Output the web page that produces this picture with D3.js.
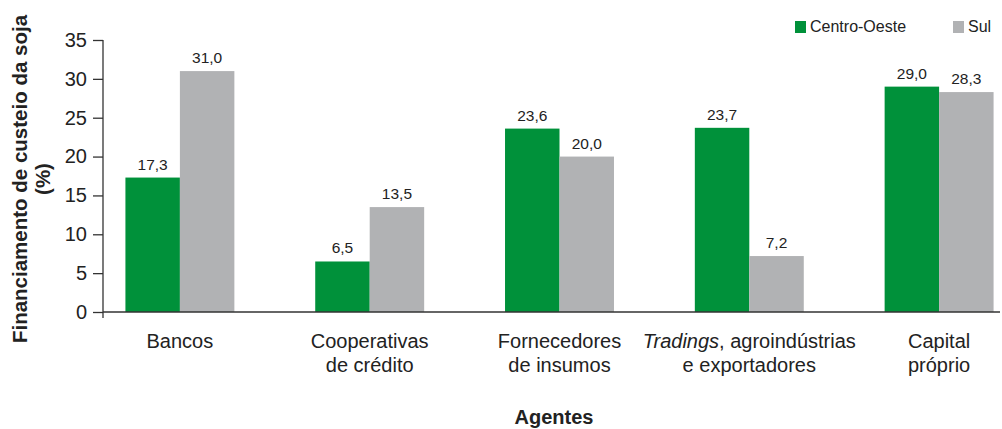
<!DOCTYPE html>
<html>
<head>
<meta charset="utf-8">
<script src="https://cdn.jsdelivr.net/npm/d3@7/dist/d3.min.js"></script>
<style>
  html, body { margin: 0; padding: 0; background: #fff; }
  svg { display: block; font-family: "Liberation Sans", Arial, sans-serif; }
</style>
</head>
<body>
<svg id="chart" width="1002" height="429"></svg>
<script>
// Agents financing the soybean crop, share by region (%)
const categories = [
  ["Bancos"],
  ["Cooperativas", "de crédito"],
  ["Fornecedores", "de insumos"],
  ["Tradings", "e exportadores"],
  ["Capital", "próprio"]
];
const seriesNames = ["Centro-Oeste", "Sul"];
const centroOeste = [17.3, 6.5, 23.6, 23.7, 29.0];
const sul = [31.0, 13.5, 20.0, 7.2, 28.3];
const yTicks = [0, 5, 10, 15, 20, 25, 30, 35];

const colors = { "Centro-Oeste": "#00913a", "Sul": "#b1b2b4" };
const axisColor = "#333";

const svg = d3.select("#chart");
const plotTop = 40, plotBottom = 312, axisX = 103;

const keys = categories.map((d, i) => "c" + i);
const x = d3.scaleBand().domain(keys).range([85, 1034]).paddingInner(0.426).paddingOuter(0.213);
const xs = d3.scaleBand().domain(seriesNames).range([0, x.bandwidth()]);
const y = d3.scaleLinear().domain([0, 35]).range([plotBottom, plotTop]);

const rows = keys.map((k, i) => ({ key: k, values: [
  { name: "Centro-Oeste", v: centroOeste[i] },
  { name: "Sul", v: sul[i] }
]}));

// Bars
const g = svg.append("g");
const groups = g.selectAll("g.grp").data(rows).join("g")
  .attr("class", "grp")
  .attr("transform", d => `translate(${x(d.key)},0)`);

groups.selectAll("rect").data(d => d.values).join("rect")
  .attr("x", d => xs(d.name))
  .attr("y", d => y(d.v))
  .attr("width", xs.bandwidth())
  .attr("height", d => y(0) - y(d.v))
  .attr("fill", d => colors[d.name]);

groups.selectAll("text.val").data(d => d.values).join("text")
  .attr("class", "val")
  .attr("x", d => xs(d.name) + xs.bandwidth() / 2)
  .attr("y", d => y(d.v) - 8)
  .attr("text-anchor", "middle")
  .attr("font-size", 15.5)
  .attr("fill", "#222")
  .text(d => d3.format(".1f")(d.v).replace(".", ","));

// Y axis
const yAxis = d3.axisLeft(y).tickValues(yTicks).tickSize(10).tickPadding(6).tickFormat(d3.format("d"));
const ya = svg.append("g").attr("transform", `translate(${axisX},0)`).call(yAxis);
ya.select(".domain").remove();
ya.selectAll(".tick line").attr("stroke", axisColor).attr("stroke-width", 1.3);
ya.selectAll(".tick text").attr("font-size", 20).attr("fill", "#222")
  .attr("font-family", "Liberation Sans, Arial, sans-serif");
svg.append("line").attr("x1", axisX).attr("x2", axisX)
  .attr("y1", plotTop).attr("y2", plotBottom + 6)
  .attr("stroke", axisColor).attr("stroke-width", 1.3);

// X axis baseline
svg.append("line").attr("x1", axisX).attr("x2", 1000)
  .attr("y1", plotBottom).attr("y2", plotBottom)
  .attr("stroke", axisColor).attr("stroke-width", 1.3);

// Category labels
const labels = svg.append("g");
categories.forEach((lines, i) => {
  const cx = x(keys[i]) + x.bandwidth() / 2;
  lines.forEach((line, j) => {
    const t = labels.append("text")
      .attr("x", cx).attr("y", 348 + j * 24)
      .attr("text-anchor", "middle")
      .attr("font-size", 20).attr("fill", "#222");
    if (i === 3 && j === 0) {
      t.append("tspan").attr("font-style", "italic").text("Tradings");
      t.append("tspan").text(", agroindústrias");
    } else {
      t.text(line);
    }
  });
});

// Axis titles
svg.append("text")
  .attr("x", 554).attr("y", 424)
  .attr("text-anchor", "middle")
  .attr("font-size", 20).attr("font-weight", "bold").attr("fill", "#222")
  .text("Agentes");

const yt = svg.append("text")
  .attr("transform", "translate(0,179) rotate(-90)")
  .attr("text-anchor", "middle")
  .attr("font-size", 20.5).attr("font-weight", "bold").attr("fill", "#222");
yt.append("tspan").attr("x", 0).attr("y", 27).text("Financiamento de custeio da soja");
yt.append("tspan").attr("x", 0).attr("y", 50).text("(%)");

// Legend
const legendPos = [{ name: "Centro-Oeste", x: 795 }, { name: "Sul", x: 953 }];
const lg = svg.append("g");
legendPos.forEach(l => {
  lg.append("rect").attr("x", l.x).attr("y", 21).attr("width", 11).attr("height", 12)
    .attr("fill", colors[l.name]);
  lg.append("text").attr("x", l.x + 15).attr("y", 32)
    .attr("font-size", 16).attr("fill", "#222").text(l.name);
});
</script>
</body>
</html>
